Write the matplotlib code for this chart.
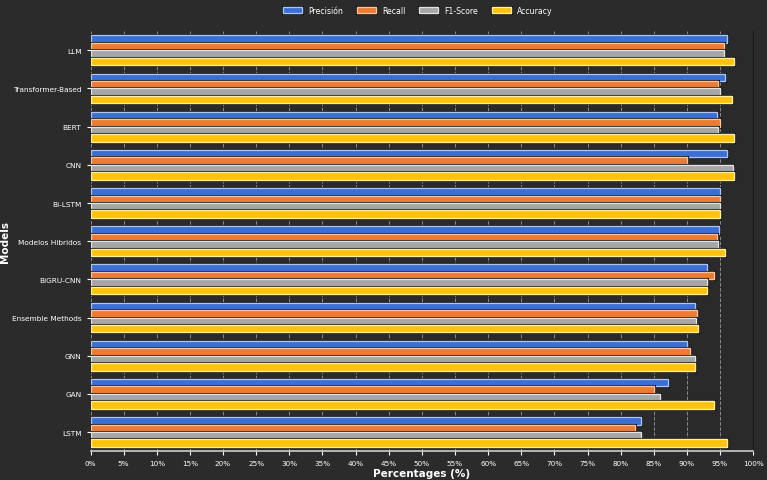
import numpy as np
import matplotlib.pyplot as plt
import matplotlib.patheffects as pe
from matplotlib.ticker import MultipleLocator, FuncFormatter

models = ['LLM', 'Transformer-Based', 'BERT', 'CNN', 'Bi-LSTM', 'Modelos Hibridos',
          'BiGRU-CNN', 'Ensemble Methods', 'GNN', 'GAN', 'LSTM']
precision = [96.0, 95.8, 94.5, 96.0, 95.0, 94.8, 93.0, 91.2, 90.0, 87.1, 83.1]
recall = [95.6, 94.7, 95.0, 90.0, 95.0, 94.5, 94.1, 91.5, 90.5, 85.1, 82.1]
f1_score = [95.6, 95.0, 94.7, 97.0, 95.0, 94.7, 93.0, 91.3, 91.2, 86.0, 83.1]
accuracy = [97.1, 96.8, 97.1, 97.1, 95.0, 95.8, 93.0, 91.6, 91.2, 94.1, 96.0]

series = [('Precisión', precision, '#3b6fd4', '#a9c4f5'),
          ('Recall', recall, '#ee7a33', '#f7c4a0'),
          ('F1-Score', f1_score, '#a6a6a6', '#e2e2e2'),
          ('Accuracy', accuracy, '#ffc20e', '#fff0a0')]

bg = '#2b2b2b'
fig = plt.figure(figsize=(7.67, 4.81), dpi=100, facecolor=bg)
ax = fig.add_axes([0.118, 0.06, 0.864, 0.873], facecolor='#2a2a2a')
ax.set_axisbelow(True)

y = np.arange(len(models))
h = 0.195
for i, (name, vals, col, edge) in enumerate(series):
    off = (i - 1.5) * h
    bars = ax.barh(y + off, vals, height=h, color=col, edgecolor=edge,
                   linewidth=0.9, label=name, zorder=3)
    for b in bars:
        b.set_path_effects([pe.withStroke(linewidth=2.2, foreground='#111111'), pe.Normal()])

ax.set_yticks(y)
ax.set_yticklabels(models)
ax.set_ylim(len(models) - 0.5, -0.5)
ax.set_xlim(0, 100)
ax.xaxis.set_major_locator(MultipleLocator(5))
ax.xaxis.set_major_formatter(FuncFormatter(lambda v, p: f'{int(v)}%'))
ax.grid(axis='x', color='#8a8a8a', linestyle='--', linewidth=0.7)

ax.tick_params(axis='y', colors='white', labelsize=5.3, length=3)
ax.tick_params(axis='x', colors='white', labelsize=5.2, length=3)
for s in ['left', 'top']:
    ax.spines[s].set_visible(False)
ax.spines['right'].set_color('#1a1a1a')
ax.spines['bottom'].set_color('#cccccc')
ax.spines['bottom'].set_linewidth(1.2)

ax.set_xlabel('Percentages (%)', color='white', fontsize=7.5, fontweight='bold', labelpad=1)
ax.set_ylabel('Models', color='white', fontsize=7.5, fontweight='bold')
ax.yaxis.set_label_coords(-0.121, 0.5)

leg = fig.legend(loc='upper center', ncol=4, frameon=False, fontsize=5.6,
                 bbox_to_anchor=(0.545, 1.0), handlelength=2.4, handleheight=0.8,
                 columnspacing=1.8)
for t in leg.get_texts():
    t.set_color('white')

fig.savefig('out.png', dpi=100, facecolor=bg)
